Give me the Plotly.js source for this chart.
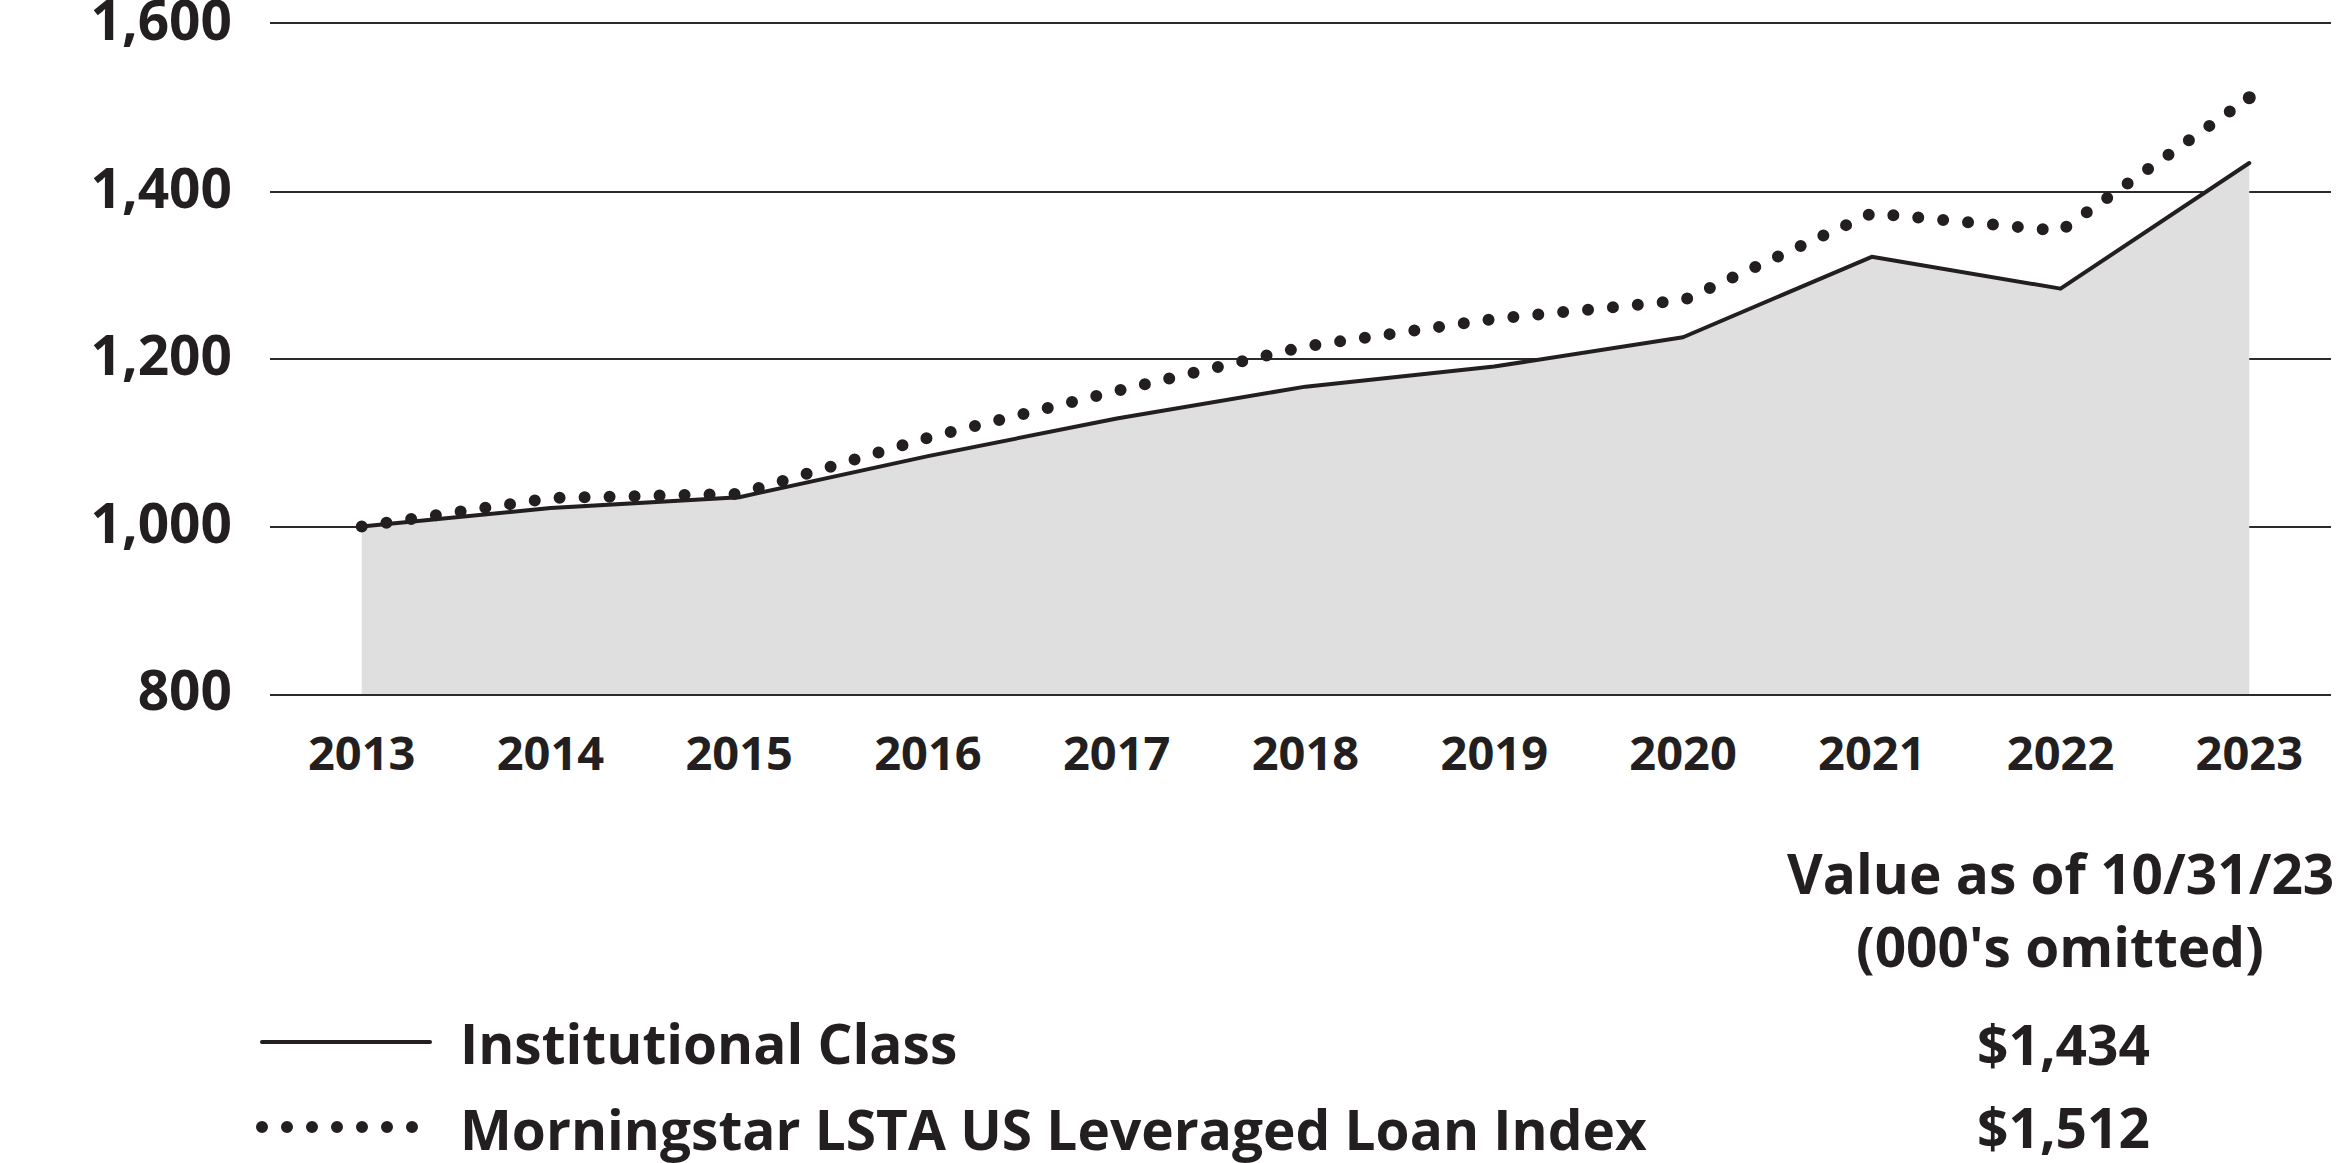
<!DOCTYPE html>
<html>
<head>
<meta charset="utf-8">
<script src="https://cdn.plot.ly/plotly-3.0.1.min.js"></script>
<style>
  html, body { margin: 0; padding: 0; background: #ffffff; }
  #chart { width: 2342px; height: 1163px; }
  .js-line, .shapelayer path { stroke-linecap: round; stroke-linejoin: round; }
</style>
</head>
<body>
<div id="chart"></div>
<script>
// ---- data ----
const years = [2013, 2014, 2015, 2016, 2017, 2018, 2019, 2020, 2021, 2022, 2023];
const yearLabels = ['2013', '2014', '2015', '2016', '2017', '2018', '2019', '2020', '2021', '2022', '2023'];
const institutionalClass = [1000, 1022, 1035, 1084, 1129, 1167, 1191, 1226, 1322, 1284, 1434];
const loanIndex = [1000, 1034, 1039, 1106, 1162, 1215, 1248, 1270, 1374, 1353, 1512];
const yTickVals = [800, 1000, 1200, 1400, 1600];
const yTickText = ['800', '1,000', '1,200', '1,400', '1,600'];
const seriesNames = ['Institutional Class', 'Morningstar LSTA US Leveraged Loan Index'];
const endValues = ['$1,434', '$1,512'];
const valueHeader = ['Value as of 10/31/23', "(000's omitted)"];

const ink = '#231f20';
const dotSize = 12;

// only the end point of the dotted series gets a marker so the dotted line ends on a dot
const endMarkerSizes = loanIndex.map((v, i) => (i === loanIndex.length - 1 ? dotSize + 1 : 0));

const traces = [
  {
    x: years, y: institutionalClass, name: seriesNames[0],
    type: 'scatter', mode: 'lines', fill: 'tozeroy', fillcolor: '#dfdfdf',
    line: { color: ink, width: 4 }, hoverinfo: 'skip'
  },
  {
    x: years, y: loanIndex, name: seriesNames[1],
    type: 'scatter', mode: 'lines+markers',
    line: { color: ink, width: dotSize, dash: '0px,25px' },
    marker: { color: ink, opacity: 1, size: endMarkerSizes, line: { width: 0 } },
    hoverinfo: 'skip'
  }
];

// paper coordinates helpers (plot area: x 270..2331, y 24..694)
const L = 270, R = 2331, T = 24, B = 694;
const px = x => (x - L) / (R - L);
const py = y => (B - y) / (B - T);

const textFont = { family: 'Open Sans', size: 55, color: ink, weight: 700 };

const layout = {
  width: 2342, height: 1163,
  margin: { l: L, r: 2342 - R, t: T, b: 1163 - B, pad: 0 },
  paper_bgcolor: '#ffffff', plot_bgcolor: '#ffffff',
  showlegend: false,
  font: { family: 'Open Sans', color: ink, weight: 700 },
  xaxis: {
    range: [2012.514, 2023.433], tickvals: years, ticktext: yearLabels,
    showgrid: false, zeroline: false, showline: true, mirror: true,
    linecolor: '#2b2b2b', linewidth: 2, ticks: '',
    ticklabelstandoff: 18,
    ticklabeloverflow: 'allow',
    tickfont: { family: 'Open Sans', size: 47, color: ink, weight: 700 },
    fixedrange: true
  },
  yaxis: {
    range: [800, 1600], tickvals: yTickVals, ticktext: yTickText,
    showgrid: true, gridcolor: '#2b2b2b', gridwidth: 2,
    zeroline: false, showline: false, ticks: '',
    ticklabelstandoff: 37,
    ticklabelshift: -3,
    ticklabeloverflow: 'allow',
    tickfont: { family: 'Open Sans', size: 55, color: ink, weight: 700 },
    fixedrange: true
  },
  shapes: [
    { type: 'line', xref: 'paper', yref: 'paper', x0: px(262), x1: px(430), y0: py(1042), y1: py(1042),
      line: { color: ink, width: 4 } },
    { type: 'line', xref: 'paper', yref: 'paper', x0: px(262), x1: px(413), y0: py(1127), y1: py(1127),
      line: { color: ink, width: dotSize, dash: '0px,25px' } }
  ],
  annotations: [
    { xref: 'paper', yref: 'paper', x: px(458), y: py(1042), xanchor: 'left', yanchor: 'middle',
      text: seriesNames[0], showarrow: false, font: textFont },
    { xref: 'paper', yref: 'paper', x: px(458), y: py(1128), xanchor: 'left', yanchor: 'middle',
      text: seriesNames[1], showarrow: false, font: textFont },
    { xref: 'paper', yref: 'paper', x: px(2060), y: py(872), xanchor: 'center', yanchor: 'middle',
      text: valueHeader[0], showarrow: false, font: textFont },
    { xref: 'paper', yref: 'paper', x: px(2060), y: py(945), xanchor: 'center', yanchor: 'middle',
      text: valueHeader[1], showarrow: false, font: textFont },
    { xref: 'paper', yref: 'paper', x: px(2063), y: py(1043), xanchor: 'center', yanchor: 'middle',
      text: endValues[0], showarrow: false, font: textFont },
    { xref: 'paper', yref: 'paper', x: px(2063), y: py(1126), xanchor: 'center', yanchor: 'middle',
      text: endValues[1], showarrow: false, font: textFont }
  ]
};

Plotly.newPlot('chart', traces, layout, { staticPlot: true, displayModeBar: false });
</script>
</body>
</html>
